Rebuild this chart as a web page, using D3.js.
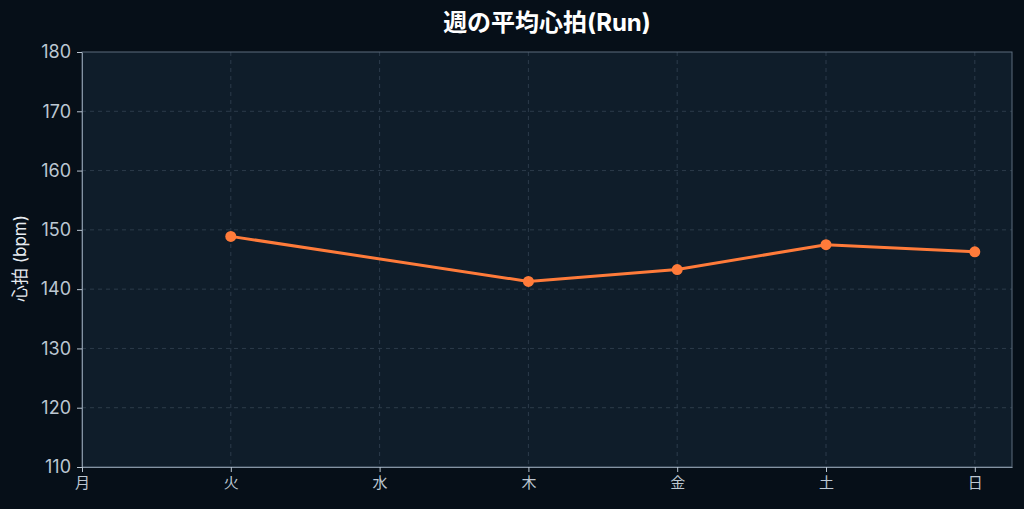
<!DOCTYPE html>
<html>
<head>
<meta charset="utf-8">
<script src="https://cdn.jsdelivr.net/npm/d3@7"></script>
<style>
  html, body { margin: 0; padding: 0; background: #060f18; }
  text { font-family: Inter, "Noto Sans CJK JP", sans-serif; }
</style>
</head>
<body>
<div id="chart"></div>
<script>
// data
const days = ["月", "火", "水", "木", "金", "土", "日"];
const heartRate = [null, 148.9, null, 141.3, 143.3, 147.5, 146.3];
const yTicks = [110, 120, 130, 140, 150, 160, 170, 180];

const W = 1024, H = 509;
const margin = { top: 52, right: 12, bottom: 42, left: 82 };
const width = W - margin.left - margin.right;
const height = H - margin.top - margin.bottom;

const svg = d3.select("#chart")
    .append("svg")
    .attr("width", W)
    .attr("height", H)
    .style("display", "block");

svg.append("rect")
    .attr("width", W).attr("height", H)
    .attr("fill", "#060f18");

const g = svg.append("g")
    .attr("transform", `translate(${margin.left}, ${margin.top})`);

// x: categories spaced evenly, with extra room after the last one
const x = d3.scaleLinear().domain([0, 6.25]).range([0, width]);
const xPos = d => x(days.indexOf(d));
const y = d3.scaleLinear().domain([110, 180]).range([height, 0]);

// plot background
g.append("rect")
    .attr("width", width).attr("height", height)
    .attr("fill", "#0f1d2a");

// grid lines
g.append("g")
    .selectAll("line")
    .data(yTicks.slice(1, -1))
    .join("line")
    .attr("x1", 0).attr("x2", width)
    .attr("y1", d => y(d)).attr("y2", d => y(d))
    .attr("stroke", "#2c3b4a")
    .attr("stroke-dasharray", "4,4");
g.append("g")
    .selectAll("line")
    .data(days.slice(1))
    .join("line")
    .attr("x1", d => xPos(d)).attr("x2", d => xPos(d))
    .attr("y1", 0).attr("y2", height)
    .attr("stroke", "#2c3b4a")
    .attr("stroke-dasharray", "4,4");

// frame
g.append("rect")
    .attr("width", width).attr("height", height)
    .attr("fill", "none")
    .attr("stroke", "#5d6d7d")
    .attr("stroke-width", 1);

// axes
const yAxis = g.append("g")
    .call(d3.axisLeft(y).tickValues(yTicks).tickSize(5).tickSizeOuter(0).tickPadding(6));
const xAxis = g.append("g")
    .attr("transform", `translate(0, ${height})`)
    .call(d3.axisBottom(x).tickValues(d3.range(days.length)).tickFormat(i => days[i])
        .tickSize(5).tickSizeOuter(0).tickPadding(5));

[yAxis, xAxis].forEach(a => {
    a.select(".domain").attr("stroke", "#8493a3");
    a.selectAll(".tick line").attr("stroke", "#b8c4d0");
    a.selectAll(".tick text").attr("fill", "#bcc7d2");
});
yAxis.selectAll(".tick text").style("font-size", "18px");
xAxis.selectAll(".tick text").style("font-size", "15px");

// line (connect across missing days)
const pts = days.map((d, i) => ({ day: d, v: heartRate[i] })).filter(p => p.v != null);
const line = d3.line()
    .x(p => xPos(p.day))
    .y(p => y(p.v));

g.append("path")
    .datum(pts)
    .attr("d", line)
    .attr("fill", "none")
    .attr("stroke", "#ff7b3a")
    .attr("stroke-width", 3);

g.append("g")
    .selectAll("circle")
    .data(pts)
    .join("circle")
    .attr("cx", p => xPos(p.day))
    .attr("cy", p => y(p.v))
    .attr("r", 5.5)
    .attr("fill", "#ff7b3a");

// y label
svg.append("text")
    .attr("transform", `translate(26, ${margin.top + height / 2 - 1}) rotate(-90)`)
    .attr("text-anchor", "middle")
    .attr("fill", "#e6ebf0")
    .style("font-size", "17px")
    .text("心拍 (bpm)");

// title
svg.append("text")
    .attr("x", margin.left + width / 2)
    .attr("y", 31)
    .attr("text-anchor", "middle")
    .attr("fill", "#ffffff")
    .style("font-size", "24px")
    .style("font-weight", "bold")
    .text("週の平均心拍(Run)");
</script>
</body>
</html>
